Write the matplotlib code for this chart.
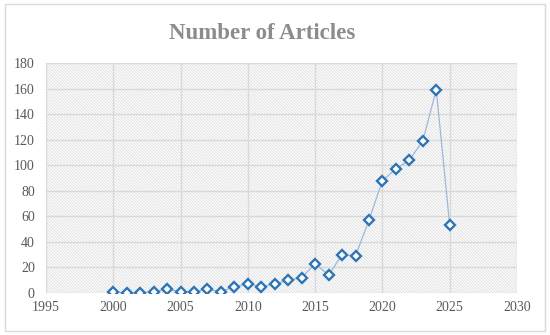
import matplotlib.pyplot as plt
from matplotlib.patches import Rectangle

years = list(range(2000, 2026))
articles = [1, 0, 0, 1, 3, 1, 1, 3, 1, 5, 7, 5, 7, 10, 12, 23, 14, 30, 29, 57, 88, 97, 104, 119, 159, 53]
xticks = [1995, 2000, 2005, 2010, 2015, 2020, 2025, 2030]
yticks = list(range(0, 181, 20))

plt.rcParams['font.family'] = ['Liberation Serif', 'DejaVu Serif']
plt.rcParams['hatch.color'] = '#e0e0e0'
plt.rcParams['hatch.linewidth'] = 0.7

fig = plt.figure(figsize=(5.5, 3.35), dpi=100)
ax = fig.add_axes([0.0836, 0.1254, 0.8564, 0.6866])

# hatched plot area
ax.add_patch(Rectangle((0, 0), 1, 1, transform=ax.transAxes, facecolor='white',
                       hatch='\\' * 11, edgecolor='#e0e0e0', linewidth=0, zorder=0))

ax.plot(years, articles, '-', color='#9db8dc', linewidth=0.9, zorder=3)
ax.plot(years, articles, 'D', markersize=5.2, markerfacecolor='white',
        markeredgecolor='#2e75b6', markeredgewidth=1.7, linestyle='none', zorder=4)

ax.set_xlim(1995, 2030)
ax.set_ylim(0, 180)
ax.set_xticks(xticks)
ax.set_yticks(yticks)
ax.grid(True, color='#d9d9d9', linewidth=1.0, zorder=1)
ax.set_axisbelow(True)
for s in ax.spines.values():
    s.set_visible(False)
ax.tick_params(length=0, labelsize=10, colors='#595959', pad=8)
ax.tick_params(axis='x', pad=6)

fig.text(0.477, 0.9, 'Number of Articles', ha='center', va='center',
         fontsize=16.5, fontweight='bold', color='#8c8c8c')

fig.add_artist(Rectangle((0.009, 0.012), 0.982, 0.975, transform=fig.transFigure,
                         fill=False, edgecolor='#d9d9d9', linewidth=1.0))

fig.savefig('out.png', dpi=100)
